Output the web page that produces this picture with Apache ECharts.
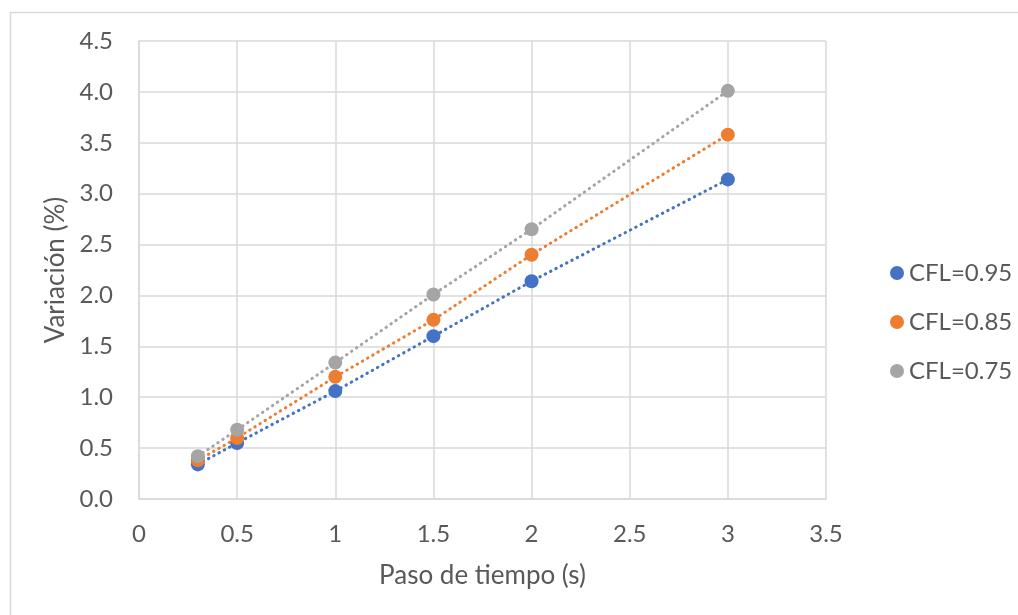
<!DOCTYPE html>
<html>
<head>
<meta charset="utf-8">
<script src="https://cdn.jsdelivr.net/npm/echarts@6/dist/echarts.min.js"></script>
<style>html,body{margin:0;padding:0;background:#fff;}#c{width:1018px;height:615px;}</style>
</head>
<body>
<div id="c"></div>
<script>
const xValues = [0.3, 0.5, 1, 1.5, 2, 3];
const cfl095 = [0.34, 0.55, 1.06, 1.60, 2.14, 3.14];
const cfl085 = [0.38, 0.60, 1.20, 1.76, 2.40, 3.58];
const cfl075 = [0.42, 0.68, 1.34, 2.01, 2.65, 4.01];
const seriesNames = ['CFL=0.95', 'CFL=0.85', 'CFL=0.75'];
const colors = ['#4472C4', '#ED7D31', '#A5A5A5'];
const FONT = 'Lato, "Open Sans", sans-serif';

const pts = arr => xValues.map((x, i) => [x, arr[i]]);
const allData = [cfl095, cfl085, cfl075];

const chart = echarts.init(document.getElementById('c'), null, {renderer: 'canvas'});
chart.setOption({
  animation: false,
  backgroundColor: '#fff',
  graphic: [{
    type: 'rect', left: 8, top: 10, shape: {width: 1030, height: 620},
    style: {fill: 'none', stroke: '#D9D9D9', lineWidth: 1.5}, silent: true
  }],
  grid: {left: 139, right: 192, top: 41, bottom: 116, containLabel: false},
  legend: {
    orient: 'vertical', left: 885, top: 256, itemGap: 25,
    icon: 'circle', itemWidth: 14, itemHeight: 14,
    textStyle: {fontFamily: FONT, fontSize: 24, lineHeight: 24, color: '#595959'},
    data: seriesNames
  },
  xAxis: {
    type: 'value', min: 0, max: 3.5, interval: 0.5,
    name: 'Paso de tiempo (s)', nameLocation: 'middle', nameGap: 64,
    nameTextStyle: {fontFamily: FONT, fontSize: 26, color: '#595959'},
    axisLine: {show: true, lineStyle: {color: '#D9D9D9', width: 1.5}},
    axisTick: {show: false},
    axisLabel: {fontFamily: FONT, fontSize: 24, color: '#595959', margin: 23},
    splitLine: {show: true, lineStyle: {color: '#D9D9D9', width: 1.5}}
  },
  yAxis: {
    type: 'value', min: 0, max: 4.5, interval: 0.5,
    name: 'Variación (%)', nameLocation: 'middle', nameGap: 70,
    nameTextStyle: {fontFamily: FONT, fontSize: 26, color: '#595959'},
    axisLine: {show: true, lineStyle: {color: '#D9D9D9', width: 1.5}},
    axisTick: {show: false},
    axisLabel: {fontFamily: FONT, fontSize: 24, color: '#595959', margin: 26,
      formatter: v => v.toFixed(1)},
    splitLine: {show: true, lineStyle: {color: '#D9D9D9', width: 1.5}}
  },
  series: seriesNames.map((n, i) => ({
    name: n, type: 'line', data: pts(allData[i]),
    symbol: 'circle', symbolSize: 14,
    itemStyle: {color: colors[i]},
    lineStyle: {color: colors[i], width: 3, type: [0.5, 5.5], cap: 'round'},
    z: 2 + i
  }))
});
</script>
</body>
</html>
